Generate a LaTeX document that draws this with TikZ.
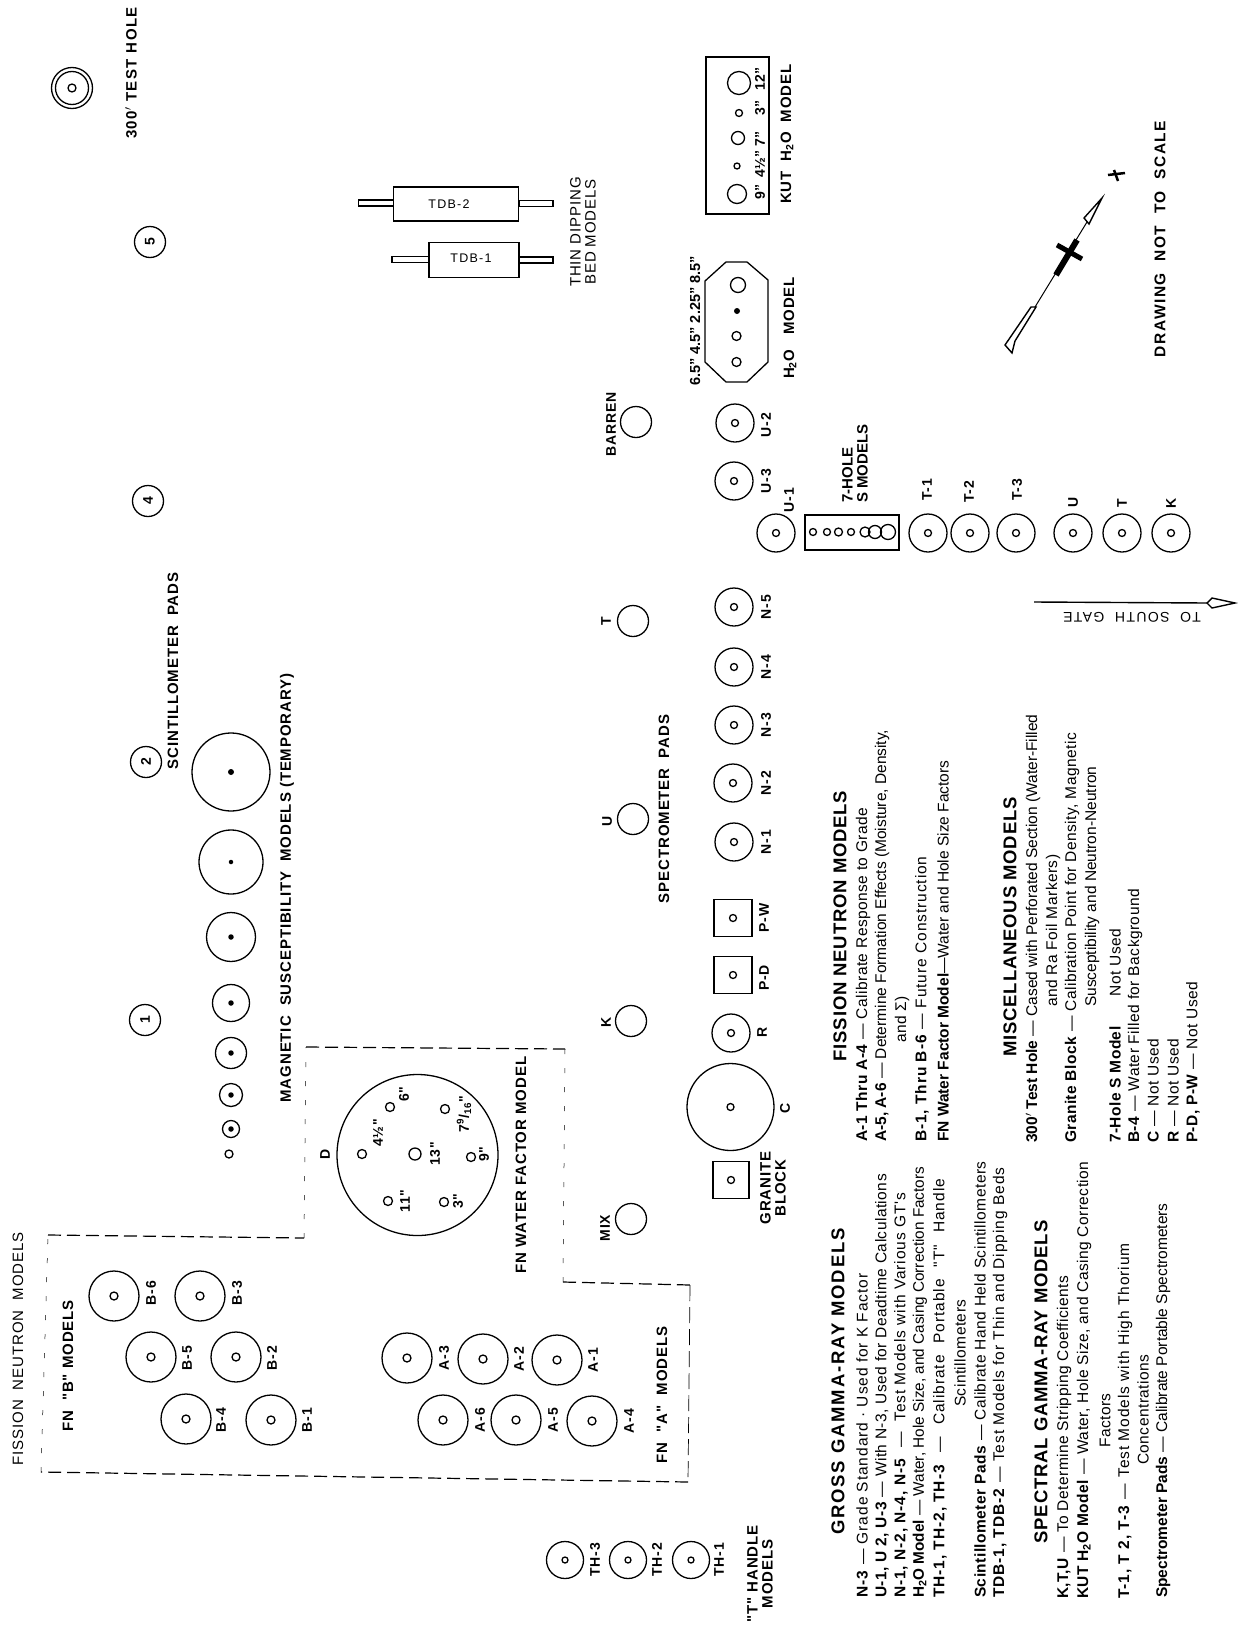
\documentclass[tikz,border=0pt]{standalone}
\usepackage{fontspec}
\setmainfont{Liberation Sans}
\newfontfamily\anch[LetterSpace=6]{Liberation Sans}
\newfontfamily\ancha[LetterSpace=10]{Liberation Sans}
\newfontfamily\medio[LetterSpace=4.5]{Liberation Sans}
\newfontfamily\lin[LetterSpace=3]{Liberation Sans}
\usepackage{tikz}
\usetikzlibrary{positioning,arrows.meta}
\newcommand{\tam}[1]{\fontsize{#1}{#1}\selectfont}
\newcommand{\clave}[1]{\textbf{#1}}
\tikzset{
  pozo/.style={circle, draw=black, line width=1.3pt, inner sep=0pt, minimum size=#1},
  hueco/.style={circle, draw=black, line width=1.3pt, inner sep=0pt, minimum size=#1},
  hueco/.default=8pt,
  punto/.style={circle, fill=black, inner sep=0pt, minimum size=#1},
  marco/.style={rectangle, draw=black, line width=1.4pt, inner sep=0pt},
  etq/.style={rotate=90, font=\anch\tam{14}\bfseries, inner sep=0pt, align=center},
  rot/.style={rotate=90, font=\anch\tam{15}, inner sep=0pt, align=center},
  rotn/.style={rotate=90, font=\anch\tam{15}\bfseries, inner sep=0pt, align=center},
  titulo/.style={rotate=90, font=\medio\tam{18.5}\bfseries, inner sep=0pt},
  linea/.style={rotate=90, anchor=west, font=\lin\tam{15.5}, inner sep=0pt},
  lineat/.style={linea, font=\tam{15.5}},
  lineaa/.style={linea, font=\anch\tam{15.5}},
  corte/.style={line width=1.2pt, dash pattern=on 13pt off 6pt},
  cortef/.style={line width=0.5pt, dash pattern=on 5pt off 14pt},
  varilla/.style={rectangle, draw=black, line width=1.2pt, inner sep=0pt},
  flecha/.style={line width=1.4pt},
}
\begin{document}
\begin{tikzpicture}[x=1pt,y=-1pt]
  \useasboundingbox (0,0) rectangle (1238,1630);
  % numbered stations
  \foreach \nom/\px/\py/\num in {n1/145/1020/1,n2/146/762/2,n4/148/501/4,n5/150/242/5}{
    \node[pozo=31pt, etq] (\nom) at (\px,\py) {\num};
  }
  % test hole
  \node[pozo=41pt] (hole) at (72,88) {};
  \node[pozo=33pt] (holei) at (hole) {};
  \node[hueco=8pt] (holec) at (hole) {};
  \node[rotn, font=\ancha\tam{15}\bfseries] (holee) at (131,73) {300$'$ TEST HOLE};
  % magnetic models
  \node[hueco=8pt] (m0) at (229,1154) {};
  \foreach \nom/\py/\tm/\pt in {m1/1129/17/5.5,m2/1095/23/5.5,m3/1053/31/5.5,m4/1003/37/5.5,m5/937/49/5.5,m6/862/64/4.5,m7/772/78/6}{
    \node[pozo=\tm pt] (\nom) at (231,\py) {};
    \node[punto=\pt pt] (\nom c) at (\nom) {};
  }
  \node[rotn] (mage) at (287,888) {MAGNETIC\ \ SUSCEPTIBILITY\ \ MODELS (TEMPORARY)};
  \node[rotn] (scie) at (173,671) {SCINTILLOMETER\ \ PADS};
  % water factor model
  \draw[corte] (48,1235) -- (304,1238);
  \draw[cortef] (304,1238) -- (306,1047);
  \draw[corte] (306,1047) -- (565,1049);
  \draw[cortef] (565,1049) -- (563,1282);
  \draw[corte] (563,1282) -- (690,1285);
  \draw[line width=0.7pt, dash pattern=on 16pt off 6pt] (690,1285) -- (688,1482);
  \draw[corte] (688,1482) -- (41,1472);
  \draw[cortef] (41,1472) -- (48,1235);
  \node[pozo=161pt] (D) at (417.5,1155) {};
  \node[etq] (De) at (325,1154) {D};
  \foreach \nom/\px/\py/\tm in {d1/390/1107/9,d2/362/1154/9,d3/415/1154/12,d4/445/1109/9,d5/471/1157/9,d6/444/1202/9,d7/388/1201/9}{
    \node[hueco=\tm pt] (\nom) at (\px,\py) {};
  }
  \node[etq] (d1e) at (404,1094) {6"};
  \node[etq] (d2e) at (378,1133) {4½"};
  \node[etq] (d3e) at (435,1154) {13"};
  \node[etq] (d4e) at (464,1114) {7\textsuperscript{9}/\textsubscript{16}"};
  \node[etq] (d5e) at (484,1154) {9"};
  \node[etq] (d6e) at (458,1201) {3"};
  \node[etq] (d7e) at (405,1201) {11"};
  \node[rotn] (fnw) at (521,1165) {FN WATER FACTOR MODEL};
  % FN models
  \node[rot] (fise) at (18,1349) {FISSION\ \ NEUTRON\ \ MODELS};
  \node[rotn] (fnb) at (68,1366) {FN\ \ "B" MODELS};
  \node[rotn] (fna) at (662,1395) {FN\ \ "A"\ \ MODELS};
  \foreach \nom/\px/\py/\ex/\ey/\txt in {B6/114/1296/151/1293/B-6,B3/200/1296/237/1293/B-3,B5/151/1357/187/1358/B-5,B2/236/1357/272/1358/B-2,
      B4/186/1419/221/1420/B-4,B1/271/1420/307/1420/B-1,A3/407/1358/444/1358/A-3,A2/483/1359/519/1359/A-2,A1/557/1360/593/1360/A-1,
      A6/443/1420/480/1420/A-6,A5/516/1420/553/1420/A-5,A4/592/1421/629/1421/A-4}{
    \node[pozo=50pt] (\nom) at (\px,\py) {};
    \node[hueco=8pt] (\nom c) at (\nom) {};
    \node[etq] (\nom e) at (\ex,\ey) {\txt};
  }
  \foreach \nom/\px/\ex/\txt in {TH3/565/595/TH-3,TH2/628/657/TH-2,TH1/691/719/TH-1}{
    \node[pozo=37pt] (\nom) at (\px,1560) {};
    \node[hueco=6pt] (\nom c) at (\nom) {};
    \node[etq] (\nom e) at (\ex,1560) {\txt};
  }
  \node[rotn] (the) at (760,1574) {"T" HANDLE\\MODELS};
  % spectrometer row
  \foreach \nom/\px/\py/\ex/\ey/\txt in {pmix/631/1219/605/1228/MIX,pk/631/1021/606/1022/K,pu/633/819/607/821/U,pt/633/621/606/621/T,pb/636/422/611/424/BARREN}{
    \node[pozo=31pt] (\nom) at (\px,\py) {};
    \node[etq] (\nom e) at (\ex,\ey) {\txt};
  }
  \node[rotn] (spce) at (664,809) {SPECTROMETER\ \ PADS};
  \foreach \nom/\px/\py/\ex/\ey/\txt in {N1/734/842/766/842/N-1,N2/733/783/766/783/N-2,N3/734/725/766/725/N-3,N4/734/667/766/667/N-4,N5/734/607/766/607/N-5,
      U3/734/481/766/481/U-3,U2/735/423/766/425/U-2,U1/776/533/789/500/U-1,T1/928/533/927/490/T-1,T2/970/533/969/492/T-2,T3/1016/533/1017/490/T-3,
      Ua/1073/533/1073/502/U,Ta/1122/533/1122/503/T,Ka/1171/533/1171/503/K,R/731/1033/762/1032/R}{
    \node[pozo=38pt] (\nom) at (\px,\py) {};
    \node[hueco=7pt] (\nom c) at (\nom) {};
    \node[etq] (\nom e) at (\ex,\ey) {\txt};
  }
  \node[pozo=87pt] (C) at (730.5,1107) {};
  \node[hueco=7pt] (Cc) at (C) {};
  \node[etq] (Ce) at (785,1108) {C};
  \foreach \nom/\py/\ey/\txt in {pd/975/978/P-D,pw/918/918/P-W}{
    \node[marco, minimum width=38pt, minimum height=37pt] (\nom) at (733,\py) {};
    \node[hueco=7pt] (\nom c) at (\nom) {};
    \node[etq] (\nom e) at (764,\ey) {\txt};
  }
  \node[marco, minimum width=36pt, minimum height=37pt] (gran) at (731,1180) {};
  \node[hueco=7pt] (granc) at (gran) {};
  \node[rotn] (grane) at (773,1188) {GRANITE\\BLOCK};
  % 7-hole box
  \node[marco, minimum width=94pt, minimum height=35pt] (siete) at (852,532.5) {};
  \foreach \nom/\px/\tm in {s1/813/7,s2/827/7,s3/838.5/8,s4/851/7,s5/865/10,s6/875/13,s7/888/15}{
    \node[hueco=\tm pt] (\nom) at (\px,532) {};
  }
  \node[rotn, font=\tam{15}\bfseries, align=left, anchor=west] (sietee) at (855,503) {7-HOLE\\S MODELS};
  % thin dipping beds
  \node[varilla, minimum width=35pt, minimum height=6pt] (r2a) at (376,203) {};
  \node[varilla, minimum width=34pt, minimum height=6pt] (r2b) at (536,203.5) {};
  \node[marco, fill=white, minimum width=125pt, minimum height=34pt] (tdb2) at (456,204) {};
  \node[font=\ancha\tam{12.5}, inner sep=0pt] (tdb2e) at (449,204) {TDB-2};
  \node[varilla, minimum width=37pt, minimum height=6pt] (r1a) at (410.5,259.5) {};
  \node[varilla, minimum width=34pt, minimum height=6pt] (r1b) at (536,260) {};
  \node[marco, fill=white, minimum width=90pt, minimum height=35pt] (tdb1) at (474,260) {};
  \node[font=\ancha\tam{12.5}, inner sep=0pt] (tdb1e) at (471,258) {TDB-1};
  \node[rot] (thin) at (583,232) {THIN DIPPING\\BED MODELS};
  % water models
  \draw[line width=1.3pt] (726,262) -- (747,262) -- (768,280) -- (768,362) -- (747,382) -- (726,382) -- (705,362) -- (705,281) -- cycle;
  \node[hueco=15pt] (h1) at (738,285) {};
  \node[punto=6pt] (h2) at (737,311) {};
  \node[hueco=9pt] (h3) at (736.5,336) {};
  \node[hueco=9pt] (h4) at (736.5,362) {};
  \node[rotn, font=\tam{14.5}\bfseries] (he) at (695,321) {6.5" 4.5" 2.25" 8.5"};
  \node[rotn] (he2) at (790,328) {H\textsubscript{2}O\ \ \ MODEL};
  \node[marco, minimum width=63pt, minimum height=157pt] (kut) at (737.5,135.5) {};
  \node[hueco=19pt] (k1) at (737,194) {};
  \node[hueco=6pt] (k2) at (737,166) {};
  \node[hueco=13pt] (k3) at (738,138) {};
  \node[hueco=7pt] (k4) at (739,113) {};
  \node[hueco=23pt] (k5) at (739,83) {};
  \foreach \nom/\ey/\txt in {k1e/192/9",k2e/164/4½",k3e/139/7",k4e/108/3",k5e/79/12"}{
    \node[etq, font=\tam{14}\bfseries] (\nom) at (760,\ey) {\txt};
  }
  \node[rotn] (kute) at (787,134) {KUT\ \ H\textsubscript{2}O\ \ MODEL};
  % north arrow
  \draw[line width=1pt] (1035,307) -- (1087,222);
  \draw[line width=6pt] (1056,275) -- (1077,240);
  \draw[line width=5pt] (1057,245) -- (1082,259);
  \draw[flecha, fill=white] (1102,198) -- (1084,218) -- (1089,224) -- cycle;
  \draw[flecha, fill=white] (1036,307) -- (1031,307) -- (1005,345) -- (1012,353) -- (1015,341) -- cycle;
  \draw[line width=2.5pt] (1108,175) -- (1125,173);
  \draw[line width=2.5pt] (1114,170) -- (1118,181);
  \node[rotn, font=\ancha\tam{15.5}\bfseries] (esc) at (1160,239) {DRAWING\ \ NOT\ \ TO\ \ SCALE};
  % south gate
  \coordinate (ga) at (1034,602);
  \coordinate (gb) at (1207,603);
  \coordinate (gc) at (1235,603);
  \draw[flecha] (ga) -- (gb);
  \draw[flecha, fill=white] (gb) -- (1212,598) -- (gc) -- (1212,608) -- cycle;
  \node[rotate=180, font=\ancha\tam{14}, inner sep=0pt] (gate) at (1132,617) {TO\ \ SOUTH\ \ GATE};
  % gross gamma-ray
  \node[titulo, font=\ancha\tam{18.5}\bfseries] (t1) at (838,1381.5) {GROSS GAMMA-RAY MODELS};
  \node[lineaa] (g1) at (862,1598) {\clave{N-3} — Grade Standard · Used for K Factor};
  \node[linea] (g2) at (882,1598) {\clave{U-1, U 2, U-3} — With N-3, Used for Deadtime Calculations};
  \node[lineaa] (g3) at (901,1598) {\clave{N-1, N-2, N-4, N-5}\ \ — \ Test Models with Various GT's};
  \node[lineat, font=\tam{15.3}] (g4) at (920,1598) {\clave{H\textsubscript{2}O Model} — Water, Hole Size, and Casing Correction Factors};
  \node[lineaa] (g5) at (940,1598) {\clave{TH-1, TH-2, TH-3}\hspace{12pt}—\hspace{12pt}Calibrate\hspace{12pt}Portable\hspace{12pt}"T"\hspace{12pt}Handle};
  \node[linea] (g6) at (960,1407) {Scintillometers};
  \node[linea] (g7) at (980,1598) {\clave{Scintillometer Pads} — Calibrate Hand Held Scintillometers};
  \node[lineaa] (g8) at (1000,1598) {\clave{TDB-1, TDB-2} — Test Models for Thin and Dipping Beds};
  % spectral
  \node[titulo] (t2) at (1041,1382) {SPECTRAL GAMMA-RAY MODELS};
  \node[linea] (e1) at (1064,1599) {\clave{K,T,U} — To Determine Stripping Coefficients};
  \node[linea] (e2) at (1084,1599) {\clave{KUT H\textsubscript{2}O Model} — Water, Hole Size, and Casing Correction};
  \node[linea] (e3) at (1105,1448) {Factors};
  \node[lineaa] (e4) at (1125,1599) {\clave{T-1, T 2, T-3}\hspace{6pt}—\hspace{6pt}Test Models with High Thorium};
  \node[linea] (e5) at (1143,1465) {Concentrations};
  \node[lineat] (e6) at (1163,1598) {\clave{Spectrometer Pads} — Calibrate Portable Spectrometers};
  % fission
  \node[titulo] (t3) at (840,926) {FISSION NEUTRON MODELS};
  \node[linea] (f1) at (863,1142) {\clave{A-1 Thru A-4} — Calibrate Response to Grade};
  \node[lineat] (f2) at (882,1142) {\clave{A-5, A-6} — Determine Formation Effects (Moisture, Density,};
  \node[linea] (f3) at (902,1043) {and Σ)};
  \node[lineaa] (f4) at (922,1142) {\clave{B-1, Thru B-6} — Future Construction};
  \node[lineat] (f5) at (943,1142) {\clave{FN Water Factor Model}—Water and Hole Size Factors};
  % miscellaneous
  \node[titulo] (t4) at (1010,927) {MISCELLANEOUS MODELS};
  \node[lineat] (x1) at (1033,1143) {\clave{300$'$ Test Hole} — Cased with Perforated Section (Water-Filled};
  \node[linea] (x2) at (1053,1007) {and Ra Foil Markers)};
  \node[linea] (x3) at (1072,1143) {\clave{Granite Block} — Calibration Point for Density, Magnetic};
  \node[lineat] (x4) at (1092,1007) {Susceptibility and Neutron-Neutron};
  \node[linea] (x5) at (1115,1143) {\clave{7-Hole S Model}\hspace{30pt}Not Used};
  \node[linea] (x6) at (1135,1143) {\clave{B-4} — Water Filled for Background};
  \node[linea] (x7) at (1153,1143) {\clave{C} — Not Used};
  \node[linea] (x8) at (1173,1143) {\clave{R} — Not Used};
  \node[linea] (x9) at (1193,1143) {\clave{P-D, P-W} — Not Used};
\end{tikzpicture}
\end{document}
